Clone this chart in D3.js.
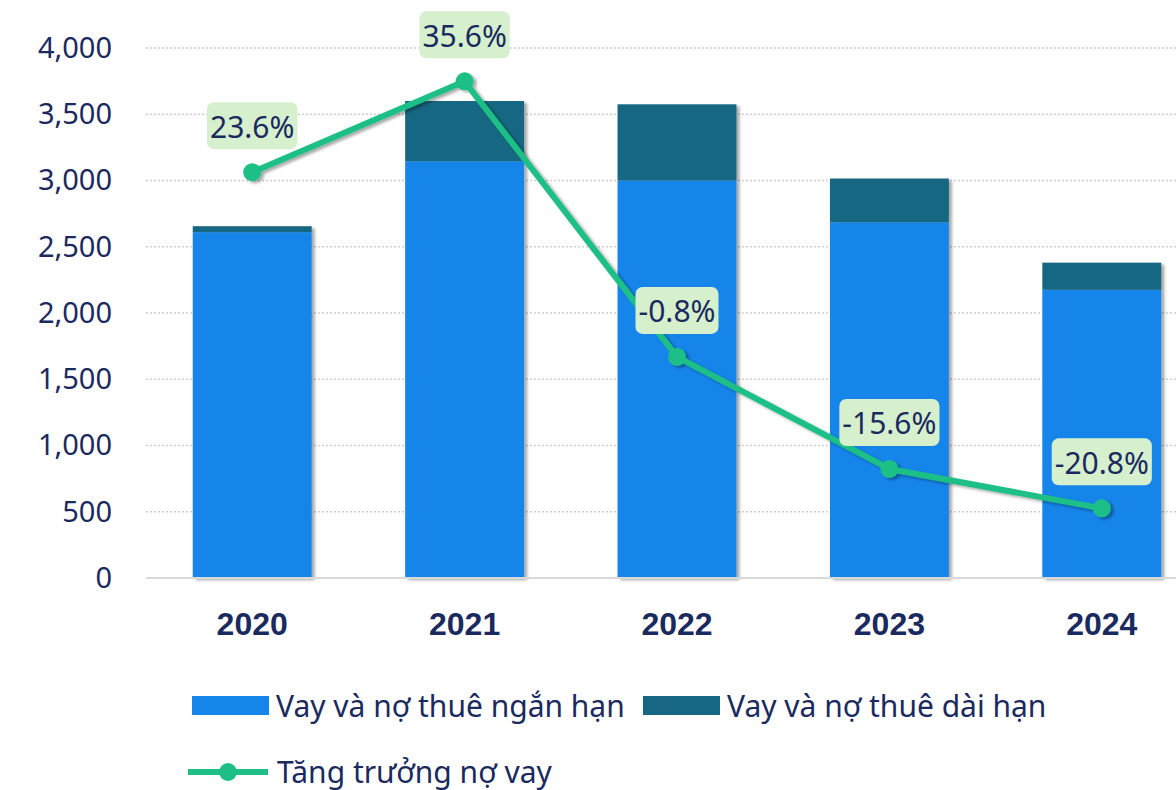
<!DOCTYPE html>
<html lang="vi">
<head>
<meta charset="UTF-8">
<title>Vay và nợ thuê</title>
<script src="https://d3js.org/d3.v7.min.js"></script>
<style>
  body { margin: 0; background: #fff; }
  svg { display: block; font-family: "Noto Sans", "Open Sans", sans-serif; }
</style>
</head>
<body>
<svg id="chart" width="1176" height="790"></svg>
<script>
// data
const years = ['2020', '2021', '2022', '2023', '2024'];
const shortTerm = [2610, 3145, 3000, 2685, 2175];   // Vay và nợ thuê ngắn hạn
const longTerm = [45, 455, 575, 330, 205];          // Vay và nợ thuê dài hạn
const growth = [23.6, 35.6, -0.8, -15.6, -20.8];    // Tăng trưởng nợ vay (%)
const yTicks = [0, 500, 1000, 1500, 2000, 2500, 3000, 3500, 4000];

const colShort = '#1685EA', colLong = '#176782', colLine = '#1DBF86';
const textCol = '#1B2A5E';

const svg = d3.select('#chart');

const x = d3.scaleBand().domain(years).range([146, 1208]).paddingInner(0.44).paddingOuter(0.22);
const y = d3.scaleLinear().domain([0, 4000]).range([578, 48]);
const y2 = d3.scaleLinear().domain([-30, 40]).range([578, 48]);   // hidden right axis for growth

// shadow filter
const defs = svg.append('defs');
const f = defs.append('filter').attr('id', 'shadow').attr('x', '-20%').attr('y', '-20%').attr('width', '140%').attr('height', '140%');
f.append('feDropShadow').attr('dx', 3).attr('dy', 2).attr('stdDeviation', 1.5).attr('flood-color', '#000').attr('flood-opacity', 0.35);

// gridlines
svg.append('g').selectAll('line').data(yTicks.filter(d => d > 0)).join('line')
  .attr('x1', 146).attr('x2', 1176)
  .attr('y1', d => y(d)).attr('y2', d => y(d))
  .attr('stroke', '#cfcfcf').attr('stroke-width', 1.5).attr('stroke-dasharray', '2,2');

// y axis labels
const yAxis = svg.append('g').attr('transform', 'translate(146,0)')
  .call(d3.axisLeft(y).tickValues(yTicks).tickFormat(d3.format(',')).tickSize(0).tickPadding(34));
yAxis.select('.domain').remove();
yAxis.selectAll('text').attr('fill', textCol).style('font-size', '29px').style('font-family', '"Noto Sans", sans-serif');

// stacked bars
const stack = years.map((yr, i) => ({ yr, s: shortTerm[i], l: longTerm[i] }));
const bars = svg.append('g').attr('filter', 'url(#shadow)');
bars.selectAll('rect.short').data(stack).join('rect').attr('class', 'short')
  .attr('x', d => x(d.yr)).attr('width', x.bandwidth())
  .attr('y', d => y(d.s)).attr('height', d => y(0) - y(d.s))
  .attr('fill', colShort);
bars.selectAll('rect.long').data(stack).join('rect').attr('class', 'long')
  .attr('x', d => x(d.yr)).attr('width', x.bandwidth())
  .attr('y', d => y(d.s + d.l)).attr('height', d => y(d.s) - y(d.s + d.l))
  .attr('fill', colLong);

// baseline
svg.append('line').attr('x1', 146).attr('x2', 1176).attr('y1', y(0)).attr('y2', y(0))
  .attr('stroke', '#d9d9d9').attr('stroke-width', 2);

// x axis labels
const xAxis = svg.append('g').attr('transform', `translate(0,${y(0)})`)
  .call(d3.axisBottom(x).tickSize(0).tickPadding(34));
xAxis.select('.domain').remove();
xAxis.selectAll('text').attr('fill', textCol)
  .style('font-size', '32px').style('font-weight', 'bold')
  .style('font-family', '"Liberation Sans Narrow", "Arial Narrow", sans-serif');

// growth line
const pts = years.map((yr, i) => ({ yr, v: growth[i] }));
const cx = d => x(d.yr) + x.bandwidth() / 2;
const lineG = svg.append('g').attr('filter', 'url(#shadow)');
lineG.append('path').datum(pts)
  .attr('d', d3.line().x(cx).y(d => y2(d.v)))
  .attr('fill', 'none').attr('stroke', colLine).attr('stroke-width', 6).attr('stroke-linejoin', 'round');
lineG.selectAll('circle').data(pts).join('circle')
  .attr('cx', cx).attr('cy', d => y2(d.v)).attr('r', 9).attr('fill', colLine);

// data labels
const lab = svg.append('g').selectAll('g').data(pts).join('g')
  .attr('transform', d => `translate(${cx(d)},${y2(d.v) - 46})`);
lab.append('text')
  .attr('text-anchor', 'middle').attr('dy', '0.38em')
  .attr('fill', textCol).style('font-size', '30px')
  .text(d => d.v.toFixed(1) + '%');
lab.each(function () {
  const g = d3.select(this);
  const bb = g.select('text').node().getBBox();
  g.insert('rect', 'text')
    .attr('x', bb.x - 3).attr('y', -24).attr('width', bb.width + 6).attr('height', 47)
    .attr('rx', 7).attr('fill', '#D6F0CE');
});

// legend
const leg = svg.append('g').style('font-size', '30px').attr('fill', textCol);
const legBars = [
  { name: 'Vay và nợ thuê ngắn hạn', col: colShort, x: 192 },
  { name: 'Vay và nợ thuê dài hạn', col: colLong, x: 643 }
];
legBars.forEach(d => {
  leg.append('rect').attr('x', d.x).attr('y', 696).attr('width', 77).attr('height', 19).attr('fill', d.col);
  leg.append('text').attr('x', d.x + 84).attr('y', 706).attr('dy', '0.35em').attr('fill', textCol).text(d.name);
});
leg.append('line').attr('x1', 188).attr('x2', 268).attr('y1', 772).attr('y2', 772)
  .attr('stroke', colLine).attr('stroke-width', 6);
leg.append('circle').attr('cx', 228).attr('cy', 772).attr('r', 9).attr('fill', colLine);
leg.append('text').attr('x', 277).attr('y', 772).attr('dy', '0.35em').attr('fill', textCol).text('Tăng trưởng nợ vay');
</script>
</body>
</html>
